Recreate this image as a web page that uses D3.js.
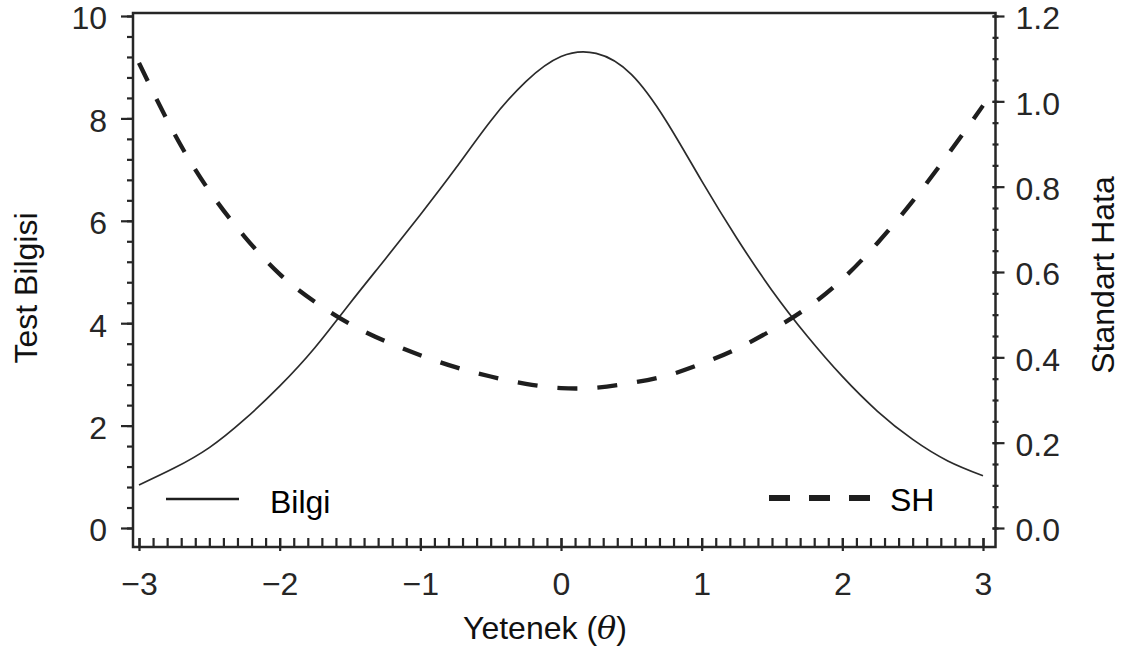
<!DOCTYPE html>
<html>
<head>
<meta charset="utf-8">
<script src="https://cdn.jsdelivr.net/npm/d3@7"></script>
<style>
  html, body { margin: 0; padding: 0; background: #fff; }
  svg { display: block; font-family: "Liberation Sans", Arial, sans-serif; }
</style>
</head>
<body>
<svg id="chart" width="1126" height="652"></svg>
<script>
// Ability levels (theta)
const theta = [-3, -2.75, -2.5, -2.25, -2, -1.75, -1.5, -1.25, -1, -0.75, -0.5, -0.25,
               0, 0.25, 0.5, 0.75, 1, 1.25, 1.5, 1.75, 2, 2.25, 2.5, 2.75, 3];
// Test information at each theta
const bilgi = [0.84, 1.17, 1.57, 2.12, 2.77, 3.52, 4.39, 5.25, 6.12, 7.02, 7.95, 8.72,
               9.21, 9.27, 8.86, 7.94, 6.78, 5.66, 4.64, 3.75, 2.96, 2.28, 1.73, 1.31, 1.02];
// Standard error at each theta
const sh = [1.09, 0.925, 0.79, 0.683, 0.595, 0.53, 0.478, 0.438, 0.405, 0.377, 0.355, 0.338,
            0.328, 0.329, 0.34, 0.357, 0.385, 0.42, 0.464, 0.516, 0.583, 0.668, 0.766, 0.875, 0.99];

const xMajor = [-3, -2, -1, 0, 1, 2, 3];
const xMinor = d3.range(-30, 31).map(d => d / 10);
const leftMajor = [0, 2, 4, 6, 8, 10];
const leftMinor = d3.range(0, 26).map(d => d * 0.4);
const rightMajor = [0, 0.2, 0.4, 0.6, 0.8, 1.0, 1.2];
const rightMinor = d3.range(0, 25).map(d => d * 0.05);

const seriesNames = ["Bilgi", "SH"];
const axisTitles = { x: "Yetenek (", left: "Test Bilgisi", right: "Standart Hata" };

// Layout
const frame = { left: 133, right: 995.5, top: 13, bottom: 547 };
const svg = d3.select("#chart");
const ink = "#262626";
const fs = 32;

const x = d3.scaleLinear().domain([-3, 3]).range([139, 983]);
const yL = d3.scaleLinear().domain([0, 10]).range([528, 16]);
const yR = d3.scaleLinear().domain([0, 1.2]).range([528, 16]);

// Curves
const data = theta.map((t, i) => ({ t, b: bilgi[i], s: sh[i] }));

svg.append("path")
  .datum(data)
  .attr("fill", "none")
  .attr("stroke", "#2b2b2b")
  .attr("stroke-width", 1.7)
  .attr("d", d3.line().x(d => x(d.t)).y(d => yL(d.b)).curve(d3.curveNatural));

svg.append("path")
  .datum(data)
  .attr("fill", "none")
  .attr("stroke", "#1e1e1e")
  .attr("stroke-width", 4.3)
  .attr("stroke-dasharray", "20,20")
  .attr("d", d3.line().x(d => x(d.t)).y(d => yR(d.s)).curve(d3.curveNatural));

// Frame
svg.append("rect")
  .attr("x", frame.left).attr("y", frame.top)
  .attr("width", frame.right - frame.left).attr("height", frame.bottom - frame.top)
  .attr("fill", "none").attr("stroke", ink).attr("stroke-width", 2.5);

function styleAxis(g) {
  g.select(".domain").remove();
  g.selectAll("line").attr("stroke", ink).attr("stroke-width", 2.2);
  g.selectAll("text").attr("fill", ink).style("font-size", fs + "px")
    .style("font-family", '"Liberation Sans", Arial, sans-serif');
}

// Bottom axis: minor ticks point inward, major ticks cross the line
const xMinorG = svg.append("g").attr("transform", `translate(0,${frame.bottom})`)
  .call(d3.axisBottom(x).tickValues(xMinor).tickSize(-9).tickFormat(""));
styleAxis(xMinorG);
const xMajorG = svg.append("g").attr("transform", `translate(0,${frame.bottom})`)
  .call(d3.axisBottom(x).tickValues(xMajor).tickSize(4).tickPadding(21).tickFormat(d3.format("d")));
styleAxis(xMajorG);
xMajorG.selectAll("line").attr("y1", -9);

// Left axis
const lMinorG = svg.append("g").attr("transform", `translate(${frame.left},0)`)
  .call(d3.axisLeft(yL).tickValues(leftMinor).tickSize(6).tickFormat(""));
styleAxis(lMinorG);
const lMajorG = svg.append("g").attr("transform", `translate(${frame.left},0)`)
  .call(d3.axisLeft(yL).tickValues(leftMajor).tickSize(12).tickPadding(14).tickFormat(d3.format("d")));
styleAxis(lMajorG);
lMajorG.selectAll("text").attr("dy", "0.4em");

// Right axis
const rMinorG = svg.append("g").attr("transform", `translate(${frame.right},0)`)
  .call(d3.axisRight(yR).tickValues(rightMinor).tickSize(3).tickFormat(""));
styleAxis(rMinorG);
rMinorG.selectAll("line").attr("x1", -3);
const rMajorG = svg.append("g").attr("transform", `translate(${frame.right},0)`)
  .call(d3.axisRight(yR).tickValues(rightMajor).tickSize(9).tickPadding(11).tickFormat(d3.format(".1f")));
styleAxis(rMajorG);
rMajorG.selectAll("line").attr("x1", -3);
rMajorG.selectAll("text").attr("dy", "0.4em");

// Axis titles
svg.append("text")
  .attr("transform", "translate(37,288) rotate(-90)")
  .attr("text-anchor", "middle").attr("fill", "#111").style("font-size", fs + "px")
  .text(axisTitles.left);

svg.append("text")
  .attr("transform", "translate(1114,275) rotate(-90)")
  .attr("text-anchor", "middle").attr("fill", "#111").style("font-size", fs + "px")
  .text(axisTitles.right);

const xt = svg.append("text")
  .attr("x", 545).attr("y", 639)
  .attr("text-anchor", "middle").attr("fill", "#111").style("font-size", fs + "px");
xt.append("tspan").text(axisTitles.x);
xt.append("tspan").style("font-style", "italic")
  .style("font-family", '"DejaVu Serif", "Liberation Serif", serif').text("\u03B8");
xt.append("tspan").text(")");

// Legend
const leg = svg.append("g");
leg.append("line")
  .attr("x1", 166).attr("x2", 239).attr("y1", 499).attr("y2", 499)
  .attr("stroke", "#1e1e1e").attr("stroke-width", 2.4);
leg.append("text").attr("x", 270).attr("y", 513).attr("fill", "#000")
  .style("font-size", fs + "px").text(seriesNames[0]);

leg.append("line")
  .attr("x1", 769).attr("x2", 871).attr("y1", 498).attr("y2", 498)
  .attr("stroke", "#1e1e1e").attr("stroke-width", 6)
  .attr("stroke-dasharray", "21,19");
leg.append("text").attr("x", 890).attr("y", 511).attr("fill", "#000")
  .style("font-size", fs + "px").text(seriesNames[1]);
</script>
</body>
</html>
